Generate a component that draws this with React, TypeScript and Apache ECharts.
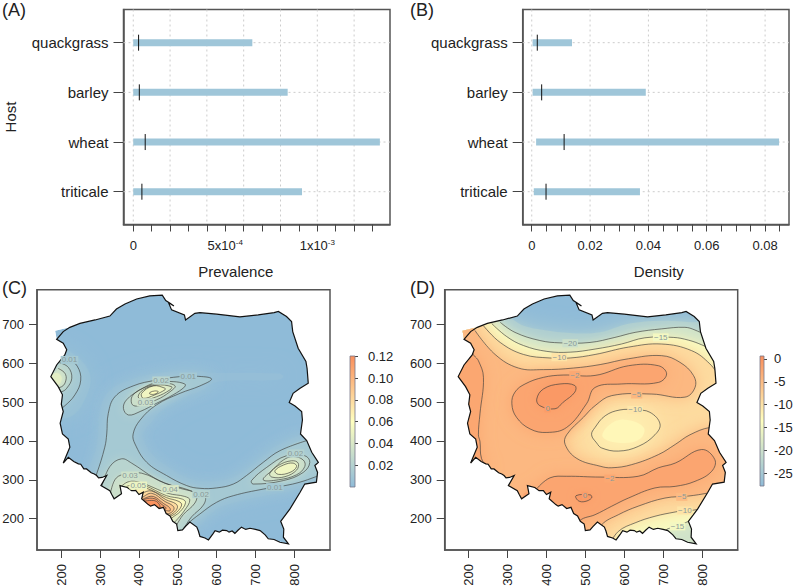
import React, { useEffect, useRef } from "react";
import * as echarts from "echarts";

const FONT = "Liberation Sans";
const TXT = "#222";
const AXIS = "#444";
const BAR = "#9fc6d9";

// ---------- panels A and B ----------
const hosts = ["triticale", "wheat", "barley", "quackgrass"];
const hostPos = [1, 2, 3, 4];
const prevalenceLow = [0.0, 0.0, 0.0, 0.0];
const prevalenceHigh = [9.17e-4, 13.4e-4, 8.39e-4, 6.47e-4];
const prevalenceMean = [0.47e-4, 0.65e-4, 0.33e-4, 0.29e-4];
const densityLow = [0.0007, 0.0015, 0.0003, 0.0003];
const densityHigh = [0.0371, 0.0848, 0.0391, 0.0138];
const densityMean = [0.0049, 0.0111, 0.0034, 0.0019];
const prevalenceTicks = [0, 1e-4, 2e-4, 3e-4, 4e-4, 5e-4, 6e-4, 7e-4, 8e-4, 9e-4, 10e-4, 11e-4, 12e-4, 13e-4];
const prevalenceLabels = [0, 5e-4, 10e-4];
const prevalenceGrid = [0, 2e-4, 4e-4, 6e-4, 8e-4, 10e-4, 12e-4];
const densityTicks = [0, 0.005, 0.01, 0.015, 0.02, 0.025, 0.03, 0.035, 0.04, 0.045, 0.05, 0.055, 0.06, 0.065, 0.07, 0.075, 0.08, 0.085];
const densityLabels = [0, 0.02, 0.04, 0.06, 0.08];
const mapXTicks = [200, 300, 400, 500, 600, 700, 800];
const mapYTicks = [200, 300, 400, 500, 600, 700];
const barCTicks = [0.02, 0.04, 0.06, 0.08, 0.1, 0.12];
const barDTicks = [-25, -20, -15, -10, -5, 0];

// ---------- map outline ----------
type P = number[];
const outline: P[] = [
  [222,693],[248,703],[287,712],[325,722],[342,740],[364,753],[394,766],[428,774],[460,776],[469,762],[480,755],[490,748],[476,757],[484,738],[517,725],[520,712],[544,729],[557,731],[600,727],[660,720],[707,725],[748,731],[759,734],[780,721],[793,708],[796,682],[810,639],[830,605],[833,587],[836,549],[815,536],[797,523],[787,499],[802,490],[819,476],[821,454],[816,418],[832,401],[845,371],[862,345],[853,337],[860,319],[857,294],[827,289],[815,268],[789,225],[765,193],[773,173],[772,152],[785,135],[763,139],[748,146],[733,148],[725,158],[712,169],[700,172],[686,175],[675,172],[664,178],[655,170],[647,162],[640,168],[632,165],[626,169],[615,170],[607,165],[596,169],[590,160],[579,145],[570,150],[557,154],[553,168],[549,178],[531,191],[520,180],[512,171],[500,169],[497,186],[487,193],[480,207],[470,213],[463,229],[452,226],[440,236],[430,232],[424,236],[407,251],[411,268],[400,262],[392,272],[381,272],[370,280],[351,285],[355,264],[336,251],[330,262],[325,272],[302,285],[317,311],[305,306],[296,305],[291,311],[285,315],[277,318],[265,328],[258,328],[250,340],[244,341],[232,347],[218,358],[205,343],[222,384],[218,405],[203,418],[197,446],[205,476],[200,495],[203,519],[192,540],[173,566],[188,596],[209,622],[214,635],[205,652],[188,662],[205,682],
];
const fillCorner: P[] = [[184,684]];

// ---------- panel C contours ----------
const c01Upper: P[] = [[832,401],[763,375],[720,345],[677,311],[643,289],[600,279],[557,278],[523,285],[471,311],[420,345],[390,392],[385,418],[403,454],[445,493],[506,523],[557,542],[587,560],[548,567],[506,566],[445,557],[385,542],[338,514],[321,471],[317,418],[312,384],[291,315],[280,290]];
const c01Lower: P[] = [[860,310],[853,307],[815,294],[776,285],[720,276],[643,259],[600,242],[557,212],[523,184],[505,160]];
const c01West: P[] = [[192,618],[218,611],[241,593],[250,557],[235,519],[207,489],[180,470]];
const c02West: P[] = [[195,602],[218,590],[227,562],[214,536],[201,527],[170,520]];
const c03West: P[] = [[192,587],[209,575],[212,557],[201,540],[170,535]];
const c02North: P[] = [[518,547],[488,553],[445,551],[403,532],[368,506],[360,484],[373,467],[403,476],[445,497],[488,519],[518,540]];
const c03North: P[] = [[493,542],[463,549],[420,540],[385,519],[381,497],[394,490],[445,506],[480,527]];
const c04North: P[] = [[484,540],[445,544],[411,532],[398,514],[411,506],[445,514],[480,532]];
const c05North: P[] = [[467,536],[437,542],[407,523],[411,510],[441,519],[467,532]];
const c06North: P[] = [[428,525],[441,529],[450,527],[441,521],[428,521]];
const c02East: P[] = [[690,298],[729,332],[780,362],[827,362],[840,345],[823,319],[772,298],[694,289]];
const c03East: P[] = [[720,300],[746,327],[772,351],[797,360],[823,351],[827,334],[806,313],[759,300]];
const c04East: P[] = [[737,317],[759,337],[793,349],[810,343],[806,325],[776,308],[742,307]];
const c05East: P[] = [[750,323],[772,338],[797,343],[806,334],[789,319],[759,314]];
const c02South: P[] = [[304,282],[325,334],[355,354],[381,343],[441,304],[493,282],[544,268],[570,257],[566,235],[536,205],[518,179],[501,154]];
const c03South: P[] = [[325,257],[338,300],[360,314],[407,317],[467,291],[527,274],[548,261],[544,240],[514,210],[497,184],[480,158]];
const c04South: P[] = [[351,280],[373,295],[403,293],[475,265],[518,257],[531,248],[518,222],[493,192],[471,171]];
const c05South: P[] = [[368,283],[390,288],[415,285],[471,259],[512,250],[520,241],[506,218],[484,201],[463,179]];
const c06South: P[] = [[385,270],[398,278],[420,278],[471,254],[503,244],[510,235],[497,216],[477,203],[454,188]];
const c07South: P[] = [[394,257],[407,265],[433,271],[469,249],[495,238],[499,228],[488,214],[471,205],[450,197]];
const c08South: P[] = [[394,248],[407,254],[433,265],[467,244],[487,233],[490,224],[480,214],[463,211],[441,201]];
const c09South: P[] = [[403,244],[414,252],[437,257],[463,239],[479,228],[480,220],[467,220],[445,209]];
const c10South: P[] = [[407,240],[415,250],[441,251],[458,237],[470,227],[463,222],[437,218]];
const c11South: P[] = [[411,244],[441,246],[454,233],[450,222],[424,222]];
const cHaloMain: P[] = [[845,420],[770,395],[725,365],[680,330],[640,305],[600,297],[557,297],[525,305],[480,330],[440,360],[415,395],[410,420],[430,445],[460,480],[510,510],[560,530],[600,552],[760,558],[772,566],[760,574],[590,576],[548,582],[506,582],[445,575],[385,560],[325,530],[300,480],[295,420],[290,380],[270,330],[260,280],[400,120],[540,170],[600,225],[643,240],[720,258],[776,268],[815,278],[880,290],[900,400]];
const cHaloWest: P[] = [[190,640],[230,625],[265,590],[275,555],[262,510],[235,470],[200,460],[150,500],[150,620]];
const cPeakWest: P[] = [[186,575],[200,566],[198,550],[190,545],[165,560]];
const c01Closure1: P[] = [[300,150],[500,100]];
const c01Closure2: P[] = [[900,360]];

// ---------- panel D contours ----------
const d25Line: P[] = [[280,722],[306,717],[341,697],[401,685],[469,678],[538,680],[611,702],[696,710],[773,706],[838,702]];
const d20Line: P[] = [[281,706],[319,680],[383,659],[435,653],[512,654],[576,667],[628,680],[696,689],[756,693],[782,686],[821,667]];
const d15Line: P[] = [[259,703],[298,669],[341,646],[401,631],[461,629],[525,637],[593,650],[653,666],[726,667],[765,660],[799,648],[838,629]];
const d10Line: P[] = [[238,697],[281,654],[341,623],[409,614],[461,614],[525,623],[611,642],[696,650],[773,633],[820,599],[846,564]];
const d05Line: P[] = [[216,685],[268,623],[328,588],[392,584],[469,588],[538,597],[611,612],[696,620],[743,603],[778,569],[782,538],[756,513],[671,521],[568,517],[525,491],[495,461],[452,416],[448,391],[478,355],[538,335],[568,331],[619,339],[688,365],[731,391],[769,416],[821,435],[850,430]];
const d05South: P[] = [[830,270],[816,266],[765,258],[705,253],[636,232],[585,210],[542,184],[530,150]];
const d10South: P[] = [[800,226],[773,221],[756,221],[731,217],[679,206],[628,189],[585,167],[560,130]];
const d15South: P[] = [[790,200],[761,191],[731,178],[709,172],[690,150]];
const d02West: P[] = [[208,630],[214,620],[225,607],[238,564],[229,470],[225,416],[229,399],[233,355],[250,330]];
const d02Loop: P[] = [[319,526],[345,547],[392,564],[443,570],[525,569],[611,594],[688,594],[709,573],[688,551],[593,547],[525,538],[503,496],[452,435],[401,422],[358,431],[323,461],[311,496]];
const d00Loop: P[] = [[375,508],[392,534],[435,547],[473,543],[473,526],[443,500],[422,483],[383,491]];
const d10Centre: P[] = [[589,480],[551,465],[525,435],[516,416],[529,395],[542,382],[585,374],[636,386],[679,416],[692,444],[666,474],[628,480]];
const d13Centre: P[] = [[600,455],[560,440],[545,410],[590,395],[640,405],[650,435]];
const d02South: P[] = [[375,277],[409,305],[452,309],[538,307],[636,309],[688,331],[731,343],[799,378],[833,352],[825,322],[782,296],[731,283],[679,279],[611,253],[568,232],[525,210],[486,195],[452,150]];
const d00South: P[] = [[476,259],[482,246],[499,244],[516,253],[513,261]];
const dClosureNorth: P[] = [[900,500],[900,100],[100,100],[100,730],[230,730]];
const d15Closure: P[] = [[900,500],[900,220]];
const d10Closure: P[] = [[900,500],[900,240]];
const d05Closure: P[] = [[900,420],[900,280]];
const dClosureSouthWest: P[] = [[100,100],[100,730],[200,730]];
const d02WestClosure: P[] = [[100,330],[100,640]];
const d02SouthClosure: P[] = [[370,200],[340,260]];

const cLabels: [string, number, number, number][] = [
  ["0.01",527,566,0.012],["0.01",221,609,0.012],["0.02",457,556,0.022],["0.03",417,500,0.032],
  ["0.03",377,311,0.034],["0.02",560,263,0.02],["0.01",750,281,0.012],["0.02",803,368,0.02],["0.05",398,285,0.05],["0.04",480,276,0.04],
];
const dLabels: [string, number, number, number][] = [
  ["\u221220",461,652,-20],["\u221210",433,616,-10],["\u22122",473,570,-2.5],["0",403,484,-1],["\u221215",694,667,-15],["\u22125",632,520,-4.5],
  ["\u221210",628,480,-10.5],["\u22122",563,303,-2.5],["\u22125",748,256,-5],["\u221210",756,221,-10],["\u221215",737,180,-15],["0",499,259,-1],
];

// ---------- colour scale ----------
const BLUE = [143, 187, 216];
const YEL = [255, 255, 191];
const ORA = [250, 143, 92];
function mix(t: number) {
  const c = Math.max(0, Math.min(1, t));
  const [a, b, k] = c < 0.5 ? [BLUE, YEL, c * 2] : [YEL, ORA, (c - 0.5) * 2];
  return `rgb(${a.map((x, i) => Math.round(x + (b[i] - x) * (k as number))).join(",")})`;
}
const cCol = (v: number) => mix(v / 0.12);
const dCol = (v: number) => mix((v + 27.8) / 28.45);
const stops = [0, 0.5, 1].map((o) => ({ offset: o, color: mix(1 - o) }));

type Band = { v: number; pts: P[]; blur: number };
const cBands: Band[] = [
  { v: 0.003, pts: cHaloMain, blur: 22 },
  { v: 0.005, pts: cHaloWest, blur: 20 },
  { v: 0.012, pts: [...c01Upper, ...c01Closure1, ...[...c01Lower].reverse(), ...c01Closure2], blur: 16 },
  { v: 0.012, pts: c01West, blur: 10 },
  { v: 0.022, pts: c02West, blur: 8 },
  { v: 0.032, pts: c03West, blur: 6 },
  { v: 0.045, pts: cPeakWest, blur: 5 },
  { v: 0.022, pts: c02North, blur: 8 },
  { v: 0.032, pts: c03North, blur: 6 },
  { v: 0.042, pts: c04North, blur: 5 },
  { v: 0.052, pts: c05North, blur: 4 },
  { v: 0.06, pts: c06North, blur: 3 },
  { v: 0.022, pts: c02East, blur: 8 },
  { v: 0.032, pts: c03East, blur: 6 },
  { v: 0.042, pts: c04East, blur: 5 },
  { v: 0.052, pts: c05East, blur: 4 },
  { v: 0.022, pts: c02South, blur: 8 },
  { v: 0.032, pts: c03South, blur: 5 },
  { v: 0.044, pts: c04South, blur: 4 },
  { v: 0.056, pts: c05South, blur: 3 },
  { v: 0.068, pts: c06South, blur: 3 },
  { v: 0.078, pts: c07South, blur: 3 },
  { v: 0.088, pts: c08South, blur: 3 },
  { v: 0.098, pts: c09South, blur: 3 },
  { v: 0.108, pts: c10South, blur: 3 },
  { v: 0.118, pts: c11South, blur: 3 },
];
const cLines: P[][] = [c01Upper, c01Lower, c01West, c02West, c03West, c02South, c03South, c04South, c05South, c06South, c07South, c08South, c09South, c10South, c11South];
const cClosed: P[][] = [c02North, c03North, c04North, c05North, c06North, c02East, c03East, c04East, c05East];

const dBands: Band[] = [
  { v: -24, pts: [...d25Line, ...dClosureNorth], blur: 22 },
  { v: -19.5, pts: [...d20Line, ...dClosureNorth], blur: 14 },
  { v: -14.5, pts: [...d15Line, ...d15Closure, ...d15South, ...dClosureSouthWest], blur: 12 },
  { v: -9, pts: [...d10Line, ...d10Closure, ...d10South, ...dClosureSouthWest], blur: 16 },
  { v: -10.5, pts: d10Centre, blur: 20 },
  { v: -12.5, pts: d13Centre, blur: 22 },
  { v: -4.6, pts: [...d05Line, ...d05Closure, ...d05South, ...dClosureSouthWest], blur: 16 },
  { v: -2.4, pts: [...d02West, ...d02WestClosure], blur: 16 },
  { v: -2.2, pts: d02Loop, blur: 16 },
  { v: -2.2, pts: [...d02South, ...d02SouthClosure], blur: 16 },
  { v: -0.6, pts: d00Loop, blur: 12 },
  { v: -0.6, pts: d00South, blur: 8 },
];
const dLines: P[][] = [d20Line, d15Line, d10Line, d05Line, d05South, d10South, d15South, d02West, d02South];
const dClosed: P[][] = [d02Loop, d00Loop, d10Centre, d00South];

const CONTOUR = "rgba(60,62,60,0.72)";

function renderMap(baseValue: string, bands: Band[], lines: P[][], closed: P[][], labels: [string, number, number, number][], col: (v: number) => string) {
  return (_: any, api: any) => {
    const co = (pts: P[]) => pts.map((p) => api.coord(p));
    const fillShape = co([...outline.slice(0, -1), ...fillCorner]);
    const kids: any[] = [
      { type: "polygon", shape: { points: fillShape }, style: { fill: baseValue } },
    ];
    bands.forEach((b) => {
      const fill = col(b.v);
      kids.push({ type: "polygon", shape: { points: co(b.pts), smooth: 0.4 }, style: { fill, shadowBlur: b.blur, shadowColor: fill } });
    });
    lines.forEach((l) => kids.push({ type: "polyline", shape: { points: co(l), smooth: 0.4 }, style: { fill: "none", stroke: CONTOUR, lineWidth: 0.9 } }));
    closed.forEach((l) => kids.push({ type: "polygon", shape: { points: co(l), smooth: 0.4 }, style: { fill: "none", stroke: CONTOUR, lineWidth: 0.9 } }));
    const texts = labels.map(([t, x, y, v]) => {
      const c = api.coord([x, y]);
      return { type: "text", x: c[0], y: c[1], style: { text: t, fontSize: 8, fontFamily: FONT, fill: "#8a9a9a", align: "center", verticalAlign: "middle", backgroundColor: col(v), padding: [0, 1] } };
    });
    return {
      type: "group",
      children: [
        { type: "group", clipPath: { type: "polygon", shape: { points: fillShape } }, children: kids },
        { type: "polygon", shape: { points: co(outline) }, style: { fill: "none", stroke: "#111", lineWidth: 1.2 } },
        ...texts,
      ],
    };
  };
}

const rangeItem = (_: any, api: any) => {
  const y = api.value(3);
  const a = api.coord([api.value(0), y]);
  const b = api.coord([api.value(1), y]);
  const m = api.coord([api.value(2), y]);
  return {
    type: "group",
    children: [
      { type: "rect", shape: { x: a[0], y: a[1] - 3.5, width: b[0] - a[0], height: 7 }, style: { fill: BAR } },
      { type: "line", shape: { x1: m[0], y1: m[1] - 8, x2: m[0], y2: m[1] + 8 }, style: { stroke: "#111", lineWidth: 1 } },
    ],
  };
};
const gridItem = (xs: number[], ys: number[]) => (params: any, api: any) => {
  const cs = params.coordSys;
  const dash = { stroke: "#ccc", lineWidth: 1, lineDash: [2, 3] };
  return {
    type: "group",
    children: [
      ...xs.map((x) => {
        const c = api.coord([x, ys[0]]);
        return { type: "line", shape: { x1: c[0], y1: cs.y, x2: c[0], y2: cs.y + cs.height }, style: dash };
      }),
      ...ys.map((y) => {
        const c = api.coord([xs[0], y]);
        return { type: "line", shape: { x1: cs.x, y1: c[1], x2: cs.x + cs.width, y2: c[1] }, style: dash };
      }),
    ],
  };
};
const barItem = (colors: any) => (_: any, api: any) => {
  const a = api.coord([0, api.value(1)]);
  const b = api.coord([1, api.value(0)]);
  return { type: "rect", shape: { x: a[0], y: a[1], width: b[0] - a[0], height: b[1] - a[1] }, style: { fill: new echarts.graphic.LinearGradient(0, 0, 0, 1, colors), stroke: "#778", lineWidth: 0.8 } };
};

const tick = { show: true, lineStyle: { color: AXIS, width: 1 } };
const line = { show: true, onZero: false, lineStyle: { color: "#555", width: 1.5 } };
const lab = { color: TXT, fontSize: 13, fontFamily: FONT };

function App() {
  const ref = useRef<HTMLDivElement>(null);
  useEffect(() => {
    const chart = echarts.init(ref.current!, null, { renderer: "svg" });
    const box = { show: true, borderColor: "#555", borderWidth: 1.5, backgroundColor: "#fff", outerBoundsMode: "none" };
    const grid = [
      { left: 123.5, top: 9.5, width: 266.5, height: 215, ...box },
      { left: 522.7, top: 9.5, width: 266.3, height: 215, ...box },
      { left: 37, top: 289.7, width: 293, height: 260.3, ...box },
      { left: 444.7, top: 289.7, width: 293, height: 260.3, ...box },
      { left: 350, top: 356, width: 5, height: 131, outerBoundsMode: "none" },
      { left: 760, top: 356, width: 4, height: 130, outerBoundsMode: "none" },
    ];
    const sup = {
      a: { fontSize: 13, fontFamily: FONT, color: TXT },
      s: { fontSize: 8, fontFamily: FONT, color: TXT, verticalAlign: "top", padding: [0, 0, 6, 0] },
    };
    const xAxis: any[] = [
      {
        gridIndex: 0, type: "value", min: -0.53e-4, max: 13.95e-4, axisLine: line, splitLine: { show: false },
        axisTick: { ...tick, length: 7, customValues: prevalenceTicks },
        axisLabel: { ...lab, margin: 14, rich: sup, customValues: prevalenceLabels, formatter: (v: number) => (v < 1e-6 ? "0" : v < 7e-4 ? "{a|5x10}{s|-4}" : "{a|1x10}{s|-3}") },
        name: "Prevalence", nameLocation: "middle", nameGap: 39, nameTextStyle: { color: TXT, fontSize: 15, fontFamily: FONT, padding: [0, 42, 0, 0] },
      },
      {
        gridIndex: 1, type: "value", min: -0.0031, max: 0.0882, axisLine: line, splitLine: { show: false },
        axisTick: { ...tick, length: 7, customValues: densityTicks },
        axisLabel: { ...lab, margin: 14, customValues: densityLabels, formatter: (v: number) => (v === 0 ? "0" : v.toFixed(2)) },
        name: "Density", nameLocation: "middle", nameGap: 39, nameTextStyle: { color: TXT, fontSize: 15, fontFamily: FONT, padding: [0, 0, 0, 6] },
      },
      ...[[137.4, 892], [138.3, 891.8]].map(([min, max], i) => ({
        gridIndex: 2 + i, type: "value", min, max, axisLine: line, splitLine: { show: false },
        axisTick: { ...tick, length: 8, customValues: mapXTicks },
        axisLabel: { ...lab, rotate: 90, margin: 14, customValues: mapXTicks, formatter: (v: number) => String(v) },
      })),
      { gridIndex: 4, type: "value", min: 0, max: 1, show: false },
      { gridIndex: 5, type: "value", min: 0, max: 1, show: false },
    ];
    const yAxis: any[] = [
      ...[0, 1].map((i) => ({
        gridIndex: i, type: "value", min: 0.34, max: 4.668, axisLine: line, splitLine: { show: false },
        axisTick: { ...tick, length: 10, customValues: hostPos },
        axisLabel: { color: TXT, fontSize: 15, fontFamily: FONT, margin: 15, customValues: hostPos, formatter: (v: number) => hosts[v - 1] },
        ...(i === 0 ? { name: "Host", nameLocation: "middle", nameGap: 106, nameRotate: 90, nameTextStyle: { color: TXT, fontSize: 15, fontFamily: FONT } } : {}),
      })),
      ...[2, 3].map((i) => ({
        gridIndex: i, type: "value", min: 119, max: 790, axisLine: line, splitLine: { show: false },
        axisTick: { ...tick, length: 8, customValues: mapYTicks },
        axisLabel: { ...lab, margin: 13, customValues: mapYTicks, formatter: (v: number) => String(v) },
      })),
      {
        gridIndex: 4, type: "value", position: "right", min: 0, max: 0.1203, axisLine: { show: false }, splitLine: { show: false },
        axisTick: { ...tick, length: 8, customValues: barCTicks },
        axisLabel: { ...lab, margin: 13, customValues: barCTicks, formatter: (v: number) => v.toFixed(2) },
      },
      {
        gridIndex: 5, type: "value", position: "right", min: -27.8, max: 0.65, axisLine: { show: false }, splitLine: { show: false },
        axisTick: { ...tick, length: 7, customValues: barDTicks },
        axisLabel: { ...lab, margin: 10, customValues: barDTicks, formatter: (v: number) => String(v) },
      },
    ];
    const custom = (i: number, renderItem: any, data: any[]) => ({ type: "custom", xAxisIndex: i, yAxisIndex: i, coordinateSystem: "cartesian2d", clip: false, silent: true, renderItem, data });
    const rows = (lo: number[], hi: number[], me: number[]) => hostPos.map((p, i) => [lo[i], hi[i], me[i], p]);
    const letter = (t: string, left: number, top: number) => ({ type: "text", x: left, y: top, style: { text: t, fontSize: 18, fontFamily: FONT, fill: TXT, verticalAlign: "middle" } });
    chart.setOption({
      animation: false,
      grid,
      xAxis,
      yAxis,
      graphic: [letter("(A)", 2, 10), letter("(B)", 410, 10), letter("(C)", 2, 288), letter("(D)", 410, 288)],
      series: [
        custom(0, gridItem(prevalenceGrid, hostPos), [[0, 1]]),
        custom(0, rangeItem, rows(prevalenceLow, prevalenceHigh, prevalenceMean)),
        custom(1, gridItem(densityLabels, hostPos), [[0, 1]]),
        custom(1, rangeItem, rows(densityLow, densityHigh, densityMean)),
        custom(2, renderMap(cCol(0), cBands, cLines, cClosed, cLabels, cCol), [[500, 500]]),
        custom(3, renderMap(dCol(-27.8), dBands, dLines, dClosed, dLabels, dCol), [[500, 500]]),
        custom(4, barItem(stops), [[0, 0.1203]]),
        custom(5, barItem(stops), [[-27.8, 0.65]]),
      ],
    });
    return () => chart.dispose();
  }, []);
  return <div ref={ref} style={{ position: "fixed", left: 0, top: 0, width: 795, height: 588, background: "#fff" }} />;
}

export default App;
